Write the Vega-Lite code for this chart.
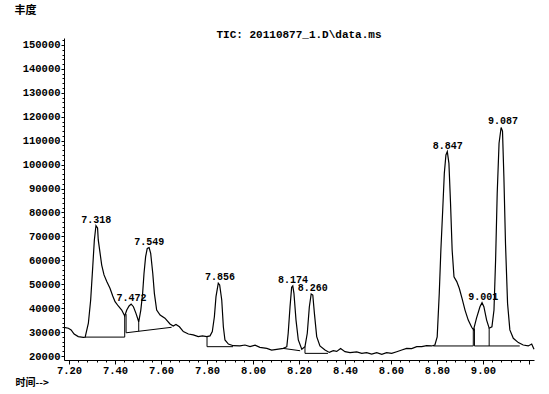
{
  "$schema": "https://vega.github.io/schema/vega-lite/v6.json",
  "width": 470,
  "height": 322,
  "autosize": {"type": "none"},
  "padding": {"left": 64, "top": 38, "right": 15, "bottom": 34},
  "background": "white",
  "config": {
    "view": {"stroke": null},
    "axis": {"domainColor": "black", "tickColor": "black", "labelColor": "black", "titleColor": "black", "grid": false}
  },
  "title": {
    "text": "TIC: 20110877_1.D\\data.ms",
    "font": "Liberation Mono",
    "fontSize": 11,
    "fontWeight": "bold",
    "anchor": "middle",
    "frame": "group",
    "offset": 0,
    "dy": 36,
    "color": "black"
  },
  "datasets": {
    "trace": [
      {"t": 7.178, "v": 32000}, {"t": 7.197, "v": 31600}, {"t": 7.209, "v": 30900}, {"t": 7.222, "v": 29200},
      {"t": 7.240, "v": 28100}, {"t": 7.262, "v": 27800}, {"t": 7.270, "v": 27900}, {"t": 7.284, "v": 33700},
      {"t": 7.294, "v": 43400}, {"t": 7.303, "v": 57300}, {"t": 7.310, "v": 68500}, {"t": 7.317, "v": 74500},
      {"t": 7.324, "v": 73500}, {"t": 7.327, "v": 68500}, {"t": 7.335, "v": 62900}, {"t": 7.342, "v": 58000},
      {"t": 7.352, "v": 53900}, {"t": 7.364, "v": 51100}, {"t": 7.378, "v": 48300}, {"t": 7.390, "v": 45100},
      {"t": 7.400, "v": 42700}, {"t": 7.414, "v": 40900}, {"t": 7.429, "v": 39200}, {"t": 7.442, "v": 36700},
      {"t": 7.451, "v": 39200}, {"t": 7.461, "v": 40900}, {"t": 7.470, "v": 41700}, {"t": 7.480, "v": 40600},
      {"t": 7.491, "v": 37800}, {"t": 7.503, "v": 34300}, {"t": 7.512, "v": 39200}, {"t": 7.520, "v": 46200},
      {"t": 7.526, "v": 54600}, {"t": 7.533, "v": 61500}, {"t": 7.540, "v": 65000}, {"t": 7.548, "v": 65300},
      {"t": 7.555, "v": 62900}, {"t": 7.564, "v": 54600}, {"t": 7.571, "v": 46200}, {"t": 7.581, "v": 39200},
      {"t": 7.596, "v": 37100}, {"t": 7.617, "v": 35800}, {"t": 7.639, "v": 33400}, {"t": 7.653, "v": 32500},
      {"t": 7.665, "v": 33200}, {"t": 7.680, "v": 32200}, {"t": 7.697, "v": 30200}, {"t": 7.719, "v": 29200},
      {"t": 7.740, "v": 28800}, {"t": 7.762, "v": 28100}, {"t": 7.780, "v": 28400}, {"t": 7.799, "v": 28100},
      {"t": 7.813, "v": 28400}, {"t": 7.823, "v": 30200}, {"t": 7.832, "v": 36400}, {"t": 7.839, "v": 44800},
      {"t": 7.849, "v": 50400}, {"t": 7.855, "v": 49700}, {"t": 7.864, "v": 43400}, {"t": 7.871, "v": 32200},
      {"t": 7.878, "v": 26700}, {"t": 7.893, "v": 25000}, {"t": 7.914, "v": 24300}, {"t": 7.943, "v": 24200},
      {"t": 7.965, "v": 24600}, {"t": 7.987, "v": 23900}, {"t": 8.009, "v": 24500}, {"t": 8.030, "v": 23600},
      {"t": 8.060, "v": 23200}, {"t": 8.081, "v": 22500}, {"t": 8.103, "v": 22800}, {"t": 8.132, "v": 23200},
      {"t": 8.147, "v": 23900}, {"t": 8.153, "v": 29500}, {"t": 8.161, "v": 40600}, {"t": 8.168, "v": 48700},
      {"t": 8.173, "v": 49300}, {"t": 8.178, "v": 46200}, {"t": 8.187, "v": 35000}, {"t": 8.197, "v": 26700},
      {"t": 8.212, "v": 22800}, {"t": 8.226, "v": 23900}, {"t": 8.236, "v": 29500}, {"t": 8.245, "v": 40600},
      {"t": 8.253, "v": 45900}, {"t": 8.260, "v": 45500}, {"t": 8.267, "v": 37800}, {"t": 8.277, "v": 28100},
      {"t": 8.291, "v": 24200}, {"t": 8.313, "v": 22500}, {"t": 8.332, "v": 21500}, {"t": 8.349, "v": 22200},
      {"t": 8.364, "v": 21900}, {"t": 8.381, "v": 23100}, {"t": 8.400, "v": 21800}, {"t": 8.422, "v": 21400},
      {"t": 8.451, "v": 21700}, {"t": 8.473, "v": 21100}, {"t": 8.494, "v": 21400}, {"t": 8.516, "v": 20800},
      {"t": 8.538, "v": 21400}, {"t": 8.560, "v": 20700}, {"t": 8.581, "v": 21400}, {"t": 8.603, "v": 21100},
      {"t": 8.625, "v": 21800}, {"t": 8.647, "v": 22500}, {"t": 8.668, "v": 23200}, {"t": 8.690, "v": 23100},
      {"t": 8.712, "v": 23900}, {"t": 8.734, "v": 23900}, {"t": 8.755, "v": 24300}, {"t": 8.777, "v": 24200},
      {"t": 8.791, "v": 24600}, {"t": 8.801, "v": 28000}, {"t": 8.810, "v": 46200}, {"t": 8.817, "v": 64300},
      {"t": 8.825, "v": 81000}, {"t": 8.832, "v": 96400}, {"t": 8.839, "v": 104000}, {"t": 8.845, "v": 105400},
      {"t": 8.852, "v": 100500}, {"t": 8.859, "v": 83800}, {"t": 8.866, "v": 64300}, {"t": 8.874, "v": 53100},
      {"t": 8.886, "v": 51100}, {"t": 8.897, "v": 48300}, {"t": 8.909, "v": 44100}, {"t": 8.922, "v": 39200},
      {"t": 8.936, "v": 35000}, {"t": 8.951, "v": 32000}, {"t": 8.959, "v": 30900}, {"t": 8.972, "v": 35800},
      {"t": 8.987, "v": 40600}, {"t": 8.996, "v": 42300}, {"t": 9.004, "v": 40600}, {"t": 9.016, "v": 35000},
      {"t": 9.027, "v": 31600}, {"t": 9.039, "v": 32200}, {"t": 9.048, "v": 39200}, {"t": 9.055, "v": 60100},
      {"t": 9.062, "v": 88000}, {"t": 9.070, "v": 108900}, {"t": 9.079, "v": 115500}, {"t": 9.085, "v": 114000},
      {"t": 9.091, "v": 95000}, {"t": 9.098, "v": 67100}, {"t": 9.107, "v": 42000}, {"t": 9.117, "v": 30900},
      {"t": 9.132, "v": 27400}, {"t": 9.154, "v": 25600}, {"t": 9.175, "v": 24600}, {"t": 9.197, "v": 24200},
      {"t": 9.212, "v": 25000}, {"t": 9.222, "v": 22800}
    ],
    "baselines": [
      {"t1": 7.270, "v1": 27900, "t2": 7.442, "v2": 27900},
      {"t1": 7.442, "v1": 27900, "t2": 7.442, "v2": 36700},
      {"t1": 7.448, "v1": 29700, "t2": 7.448, "v2": 37500},
      {"t1": 7.448, "v1": 29700, "t2": 7.646, "v2": 32000},
      {"t1": 7.503, "v1": 30340, "t2": 7.503, "v2": 34300},
      {"t1": 7.800, "v1": 23900, "t2": 7.913, "v2": 23900},
      {"t1": 7.800, "v1": 23900, "t2": 7.800, "v2": 28100},
      {"t1": 8.130, "v1": 23200, "t2": 8.205, "v2": 22200},
      {"t1": 8.226, "v1": 21100, "t2": 8.326, "v2": 21100},
      {"t1": 8.226, "v1": 21100, "t2": 8.226, "v2": 23900},
      {"t1": 8.784, "v1": 24200, "t2": 8.958, "v2": 24200},
      {"t1": 8.958, "v1": 24200, "t2": 8.958, "v2": 30900},
      {"t1": 8.963, "v1": 24200, "t2": 8.963, "v2": 31500},
      {"t1": 8.963, "v1": 24200, "t2": 9.160, "v2": 24200},
      {"t1": 9.027, "v1": 24200, "t2": 9.027, "v2": 31600}
    ],
    "peaks": [
      {"t": 7.318, "v": 74500, "label": "7.318"},
      {"t": 7.472, "v": 41700, "label": "7.472"},
      {"t": 7.549, "v": 65300, "label": "7.549"},
      {"t": 7.856, "v": 50400, "label": "7.856"},
      {"t": 8.174, "v": 49300, "label": "8.174"},
      {"t": 8.260, "v": 45900, "label": "8.260"},
      {"t": 8.847, "v": 105400, "label": "8.847"},
      {"t": 9.001, "v": 42300, "label": "9.001"},
      {"t": 9.087, "v": 115500, "label": "9.087"}
    ]
  },
  "resolve": {"axis": {"x": "independent", "y": "independent"}},
  "layer": [
    {
      "data": {"name": "trace"},
      "mark": {"type": "line", "color": "black", "strokeWidth": 1.2, "interpolate": "linear"},
      "encoding": {
        "x": {
          "field": "t", "type": "quantitative",
          "scale": {"domain": [7.178, 9.222], "nice": false, "zero": false},
          "axis": {
            "orient": "bottom",
            "values": [7.2, 7.4, 7.6, 7.8, 8.0, 8.2, 8.4, 8.6, 8.8, 9.0, 9.2],
            "labelExpr": "datum.value > 9.1 ? '' : format(datum.value, '.2f')",
            "labelFont": "Liberation Mono", "labelFontSize": 10.5, "labelFontWeight": "bold",
            "labelPadding": 1, "tickSize": 4, "tickWidth": 1, "domainWidth": 1,
            "labelFlush": false, "labelOverlap": false,
            "title": "时间-->", "titleFont": "Noto Sans CJK SC", "titleFontSize": 10, "titleFontWeight": "bold",
            "titleAnchor": "start", "titleAlign": "left", "titleBaseline": "middle", "titleX": -49, "titleY": 22
          }
        },
        "y": {
          "field": "v", "type": "quantitative",
          "scale": {"domain": [18330, 152900], "nice": false, "zero": false},
          "axis": {
            "orient": "left",
            "values": [20000, 30000, 40000, 50000, 60000, 70000, 80000, 90000, 100000, 110000, 120000, 130000, 140000, 150000],
            "format": "d",
            "labelFont": "Liberation Mono", "labelFontSize": 10.5, "labelFontWeight": "bold",
            "labelPadding": 1, "tickSize": 3, "tickWidth": 1, "domainWidth": 1,
            "labelFlush": false, "labelOverlap": false,
            "title": "丰度", "titleFont": "Noto Sans CJK SC", "titleFontSize": 11, "titleFontWeight": "bold",
            "titleAngle": 0, "titleAlign": "left", "titleBaseline": "middle", "titleX": -50, "titleY": -28
          }
        }
      }
    },
    {
      "data": {"name": "baselines"},
      "mark": {"type": "rule", "color": "black", "strokeWidth": 1},
      "encoding": {
        "x": {
          "field": "t1", "type": "quantitative",
          "axis": {
            "orient": "bottom", "domain": false, "labels": false, "title": null, "tickSize": 2,
            "values": [7.24, 7.28, 7.32, 7.36, 7.44, 7.48, 7.52, 7.56, 7.64, 7.68, 7.72, 7.76, 7.84, 7.88, 7.92, 7.96, 8.04, 8.08, 8.12, 8.16, 8.24, 8.28, 8.32, 8.36, 8.44, 8.48, 8.52, 8.56, 8.64, 8.68, 8.72, 8.76, 8.84, 8.88, 8.92, 8.96, 9.04, 9.08, 9.12, 9.16]
          }
        },
        "x2": {"field": "t2"},
        "y": {
          "field": "v1", "type": "quantitative",
          "axis": {
            "orient": "left", "domain": false, "labels": false, "title": null, "tickSize": 2,
            "values": [22000, 24000, 26000, 28000, 32000, 34000, 36000, 38000, 42000, 44000, 46000, 48000, 52000, 54000, 56000, 58000, 62000, 64000, 66000, 68000, 72000, 74000, 76000, 78000, 82000, 84000, 86000, 88000, 92000, 94000, 96000, 98000, 102000, 104000, 106000, 108000, 112000, 114000, 116000, 118000, 122000, 124000, 126000, 128000, 132000, 134000, 136000, 138000, 142000, 144000, 146000, 148000, 152000]
          }
        },
        "y2": {"field": "v2"}
      }
    },
    {
      "data": {"name": "peaks"},
      "mark": {"type": "text", "font": "Liberation Mono", "fontSize": 10, "fontWeight": "bold", "color": "black", "align": "center", "baseline": "alphabetic", "dy": -3},
      "encoding": {
        "x": {"field": "t", "type": "quantitative", "axis": null},
        "y": {"field": "v", "type": "quantitative", "axis": null},
        "text": {"field": "label"}
      }
    }
  ]
}
